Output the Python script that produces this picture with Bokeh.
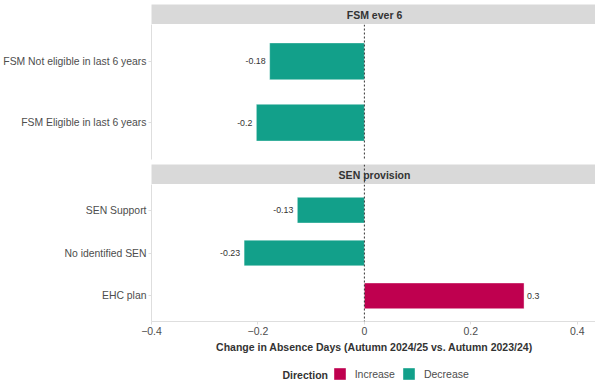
from bokeh.plotting import figure
from bokeh.models import (ColumnDataSource, FactorRange, Range1d, Span, Label,
                          Legend, LegendItem, FixedTicker)
from bokeh.layouts import column
from bokeh.transform import factor_cmap
from bokeh.core.properties import value
from bokeh.embed import file_html
from bokeh.resources import INLINE

# ---------------- data ----------------
facet_titles = ["FSM ever 6", "SEN provision"]
fsm_categories = ["FSM Not eligible in last 6 years", "FSM Eligible in last 6 years"]
fsm_values = [-0.178, -0.203]
sen_categories = ["SEN Support", "No identified SEN", "EHC plan"]
sen_values = [-0.126, -0.226, 0.300]
directions = ["Increase", "Decrease"]
direction_colors = ["#BF004F", "#12A08A"]
x_ticks = [-0.4, -0.2, 0.0, 0.2, 0.4]
x_title = "Change in Absence Days (Autumn 2024/25 vs. Autumn 2023/24)"
legend_title = "Direction"

FONT = "Liberation Sans"
FRAME_W = 446
LEFT = 149
x_range = Range1d(-0.4, 0.438)


def make_source(cats, vals):
    return ColumnDataSource(dict(
        category=cats,
        value=vals,
        direction=["Increase" if v > 0 else "Decrease" for v in vals],
        label=[f"{round(v, 2):g}" for v in vals],
        align=["left" if v > 0 else "right" for v in vals],
        xoff=[3 if v > 0 else -4 for v in vals],
    ))


def base_fig(frame_h, top=0, **kw):
    f = figure(frame_width=FRAME_W, frame_height=frame_h, toolbar_location=None,
               output_backend="svg", min_border_left=LEFT, min_border_right=0,
               min_border_top=top, outline_line_color=None, border_fill_color="white", **kw)
    return f


def strip(title, top):
    s = base_fig(20, top=top, x_range=x_range, y_range=Range1d(0, 1), min_border_bottom=0,
                 background_fill_color="#D9D9D9")
    s.axis.visible = False
    s.grid.visible = False
    s.add_layout(Label(x=FRAME_W / 2, y=10, x_units="screen", y_units="screen", text=title,
                       text_align="center", text_baseline="middle", text_font=FONT,
                       text_font_style="bold", text_font_size="10.5px", text_color="#333333"))
    return s


def panel(cats, vals, frame_h, bottom, show_x):
    src = make_source(cats, vals)
    n = len(cats)
    p = base_fig(frame_h, x_range=x_range,
                 y_range=FactorRange(factors=list(reversed(cats)), range_padding=0.2 / n),
                 min_border_bottom=bottom)
    p.hbar(y="category", left=0, right="value", height=0.6, source=src,
           fill_color=factor_cmap("direction", direction_colors, directions),
           line_color="white", line_alpha=0.5, line_width=0.8)
    p.add_layout(Span(location=0, dimension="height", line_color="#333333",
                      line_dash="2 2", line_width=1))
    p.text(x="value", y="category", text="label", source=src, text_align="align",
           x_offset="xoff", text_baseline="middle", text_font=value(FONT),
           text_font_size="8.8px", text_color="#333333")
    p.grid.visible = False
    p.yaxis.axis_line_color = "#DEDEDE"
    p.yaxis.major_tick_line_color = "#DEDEDE"
    p.yaxis.major_tick_out = 3
    p.yaxis.major_tick_in = 0
    p.yaxis.major_label_standoff = 2
    p.yaxis.major_label_text_font = FONT
    p.yaxis.major_label_text_font_size = "10.4px"
    p.yaxis.major_label_text_color = "#4D4D4D"
    p.xaxis.ticker = FixedTicker(ticks=x_ticks)
    p.xaxis.minor_tick_line_color = None
    if show_x:
        p.xaxis.axis_line_color = "#DEDEDE"
        p.xaxis.major_tick_line_color = "#DEDEDE"
        p.xaxis.major_tick_out = 3
        p.xaxis.major_tick_in = 0
        p.xaxis.major_label_standoff = 2
        p.xaxis.major_label_text_font = FONT
        p.xaxis.major_label_text_font_size = "10.5px"
        p.xaxis.major_label_text_color = "#4D4D4D"
        p.xaxis.axis_label = x_title
        p.xaxis.axis_label_standoff = 3
        p.xaxis.axis_label_text_font = FONT
        p.xaxis.axis_label_text_font_style = "bold"
        p.xaxis.axis_label_text_font_size = "10.5px"
        p.xaxis.axis_label_text_color = "#333333"
    else:
        p.xaxis.visible = False
    return p


s1 = strip(facet_titles[0], 4)
p1 = panel(fsm_categories, fsm_values, 135, 5, False)
s2 = strip(facet_titles[1], 0)
s2.add_layout(Span(location=0, dimension="height", line_color="#333333",
                   line_dash="2 2", line_width=1))
p2 = panel(sen_categories, sen_values, 137, 36, True)

# ---------------- legend row ----------------
lg = base_fig(30, x_range=Range1d(0, 1), y_range=FactorRange(factors=directions),
              min_border_bottom=0)
lg.axis.visible = False
lg.grid.visible = False
leg_src = ColumnDataSource(dict(direction=directions, color=direction_colors,
                                zero=[0.0] * len(directions)))
# zero-length bars at the axis origin: only their legend swatches are shown
lr = lg.hbar(y="direction", left="zero", right="zero", height=0.0, source=leg_src,
             fill_color="color", line_color="white", line_alpha=0.5, line_width=0.8)
items = [LegendItem(label=d, renderers=[lr], index=i) for i, d in enumerate(directions)]
legend = Legend(items=items, orientation="horizontal", location=(282, 6),
                glyph_width=15, glyph_height=15, label_standoff=8, spacing=6,
                padding=0, margin=0, border_line_color=None, background_fill_alpha=0,
                label_text_font=FONT, label_text_font_size="10.5px",
                label_text_color="#4D4D4D", label_height=15)
lg.add_layout(legend, "center")
lg.add_layout(Label(x=131, y=13, x_units="screen", y_units="screen", text=legend_title,
                    text_align="left", text_baseline="middle", text_font=FONT,
                    text_font_style="bold", text_font_size="10.5px", text_color="#333333"))

layout = column(s1, p1, s2, p2, lg, spacing=0)
open("out.html", "w").write(file_html(layout, INLINE))
